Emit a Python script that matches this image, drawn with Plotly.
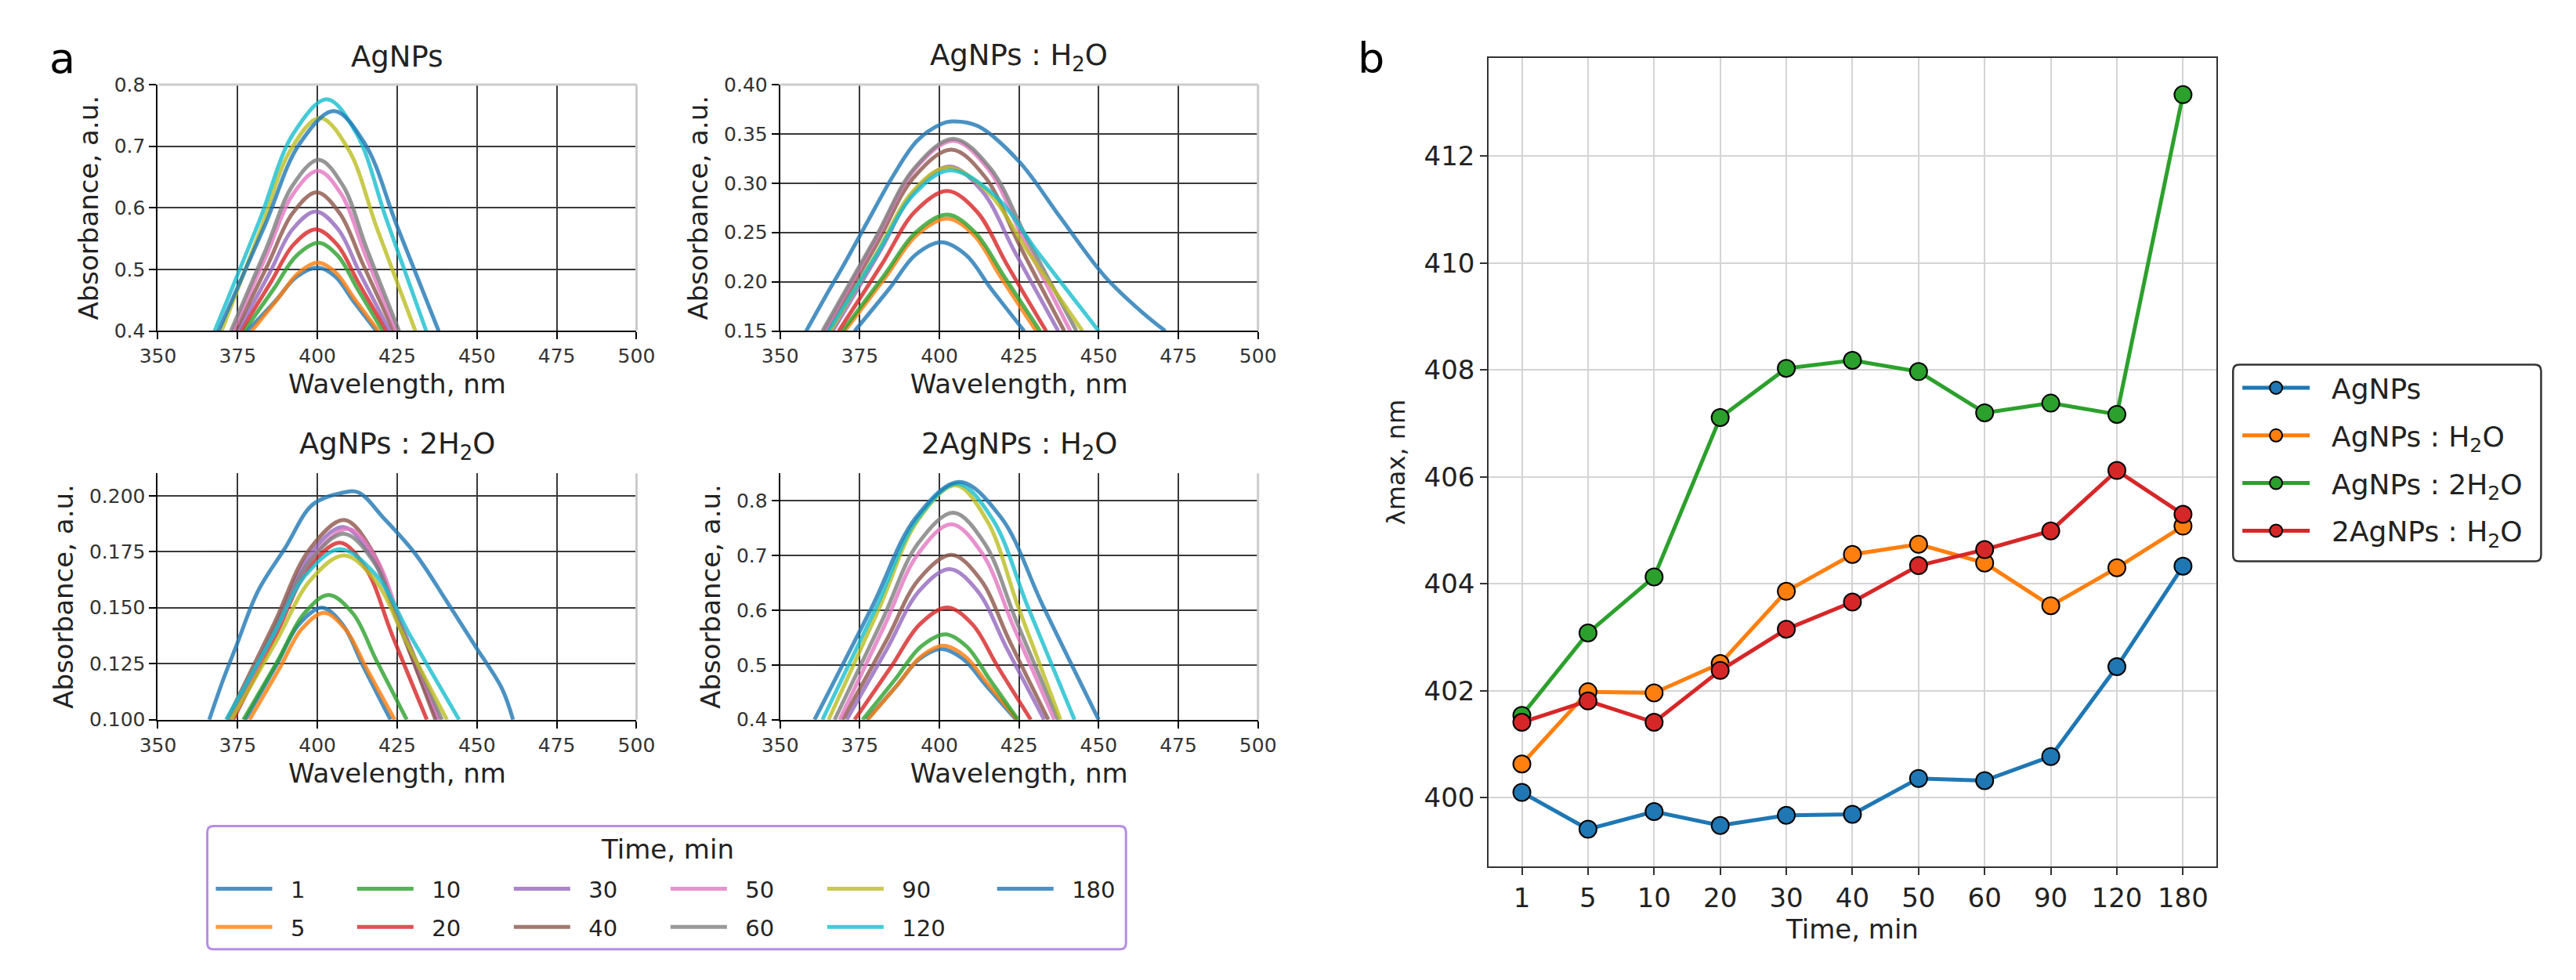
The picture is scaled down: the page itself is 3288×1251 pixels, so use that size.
import plotly.graph_objects as go

# ---- panel a : UV-vis spectra ----
TIMES = [1, 5, 10, 20, 30, 40, 50, 60, 90, 120, 180]
TIME_LABELS = [str(t) for t in TIMES]
SPEC_COLORS = ["#1f77b4", "#ff7f0e", "#2ca02c", "#d62728", "#9467bd", "#8c564b",
               "#e377c2", "#7f7f7f", "#bcbd22", "#17becf", "#1f77b4"]

# AgNPs
AG_WL = [
    [378.0, 386.9, 393.5, 400.2, 405.7, 411.2, 418.5],
    [379.4, 387.7, 394.0, 400.2, 405.9, 411.5, 419.1],
    [377.0, 386.4, 393.4, 400.4, 406.4, 412.5, 420.5],
    [376.0, 385.4, 392.5, 399.5, 406.2, 412.8, 421.7],
    [375.1, 384.9, 392.2, 399.5, 406.5, 413.4, 422.7],
    [374.3, 384.5, 392.2, 399.8, 407.0, 414.3, 423.9],
    [373.5, 384.2, 392.2, 400.2, 407.6, 414.9, 424.7],
    [372.9, 383.9, 392.2, 400.4, 408.0, 415.5, 425.6],
    [370.0, 382.3, 391.6, 400.8, 409.8, 418.7, 430.7],
    [367.8, 381.9, 392.4, 403.0, 412.3, 421.7, 434.1],
    [369.0, 383.5, 394.3, 405.2, 415.0, 424.9, 438.0],
]
AG_ABS = [
    [0.400, 0.449, 0.488, 0.503, 0.488, 0.449, 0.400],
    [0.400, 0.453, 0.494, 0.511, 0.494, 0.453, 0.400],
    [0.400, 0.469, 0.522, 0.543, 0.522, 0.469, 0.400],
    [0.400, 0.479, 0.540, 0.565, 0.540, 0.479, 0.400],
    [0.400, 0.493, 0.565, 0.594, 0.565, 0.493, 0.400],
    [0.400, 0.508, 0.591, 0.625, 0.591, 0.508, 0.400],
    [0.400, 0.525, 0.621, 0.660, 0.621, 0.525, 0.400],
    [0.400, 0.533, 0.636, 0.678, 0.636, 0.533, 0.400],
    [0.400, 0.566, 0.694, 0.746, 0.694, 0.566, 0.400],
    [0.400, 0.580, 0.720, 0.776, 0.720, 0.580, 0.400],
    [0.400, 0.571, 0.703, 0.757, 0.703, 0.571, 0.400],
]

# AgNPs : H2O
AGW_WL = [
    [373.4, 384.3, 392.4, 400.6, 408.4, 416.2, 426.6],
    [370.3, 383.2, 392.8, 402.5, 410.9, 419.2, 430.4],
    [369.6, 382.8, 392.6, 402.5, 411.2, 420.0, 431.6],
    [368.4, 382.0, 392.3, 402.5, 411.8, 421.1, 433.5],
    [366.5, 381.2, 392.2, 403.2, 413.4, 423.7, 437.3],
    [364.6, 380.3, 392.0, 403.8, 414.4, 425.0, 439.2],
    [363.9, 380.1, 392.3, 404.4, 415.4, 426.4, 441.1],
    [363.3, 379.7, 392.1, 404.4, 416.0, 427.6, 443.0],
    [365.8, 380.5, 391.5, 402.5, 415.2, 427.9, 444.9],
    [365.2, 380.4, 391.8, 403.2, 417.2, 431.3, 450.0],
    [358.2, 363.9, 370.3, 377.8, 385.4, 393.0, 400.6, 403.8, 412.0, 425.0, 438.0, 452.0, 464.0, 470.9],
]
AGW_ABS = [
    [0.150, 0.193, 0.227, 0.240, 0.227, 0.193, 0.150],
    [0.150, 0.205, 0.247, 0.264, 0.247, 0.205, 0.150],
    [0.150, 0.207, 0.250, 0.268, 0.250, 0.207, 0.150],
    [0.150, 0.218, 0.271, 0.292, 0.271, 0.218, 0.150],
    [0.150, 0.230, 0.292, 0.317, 0.292, 0.230, 0.150],
    [0.150, 0.238, 0.306, 0.334, 0.306, 0.238, 0.150],
    [0.150, 0.243, 0.314, 0.343, 0.314, 0.243, 0.150],
    [0.150, 0.243, 0.315, 0.345, 0.315, 0.243, 0.150],
    [0.150, 0.230, 0.291, 0.316, 0.291, 0.230, 0.150],
    [0.150, 0.228, 0.288, 0.313, 0.288, 0.228, 0.150],
    [0.150, 0.183, 0.219, 0.263, 0.307, 0.343, 0.360, 0.3626, 0.358, 0.322, 0.265, 0.205, 0.168, 0.150],
]

# AgNPs : 2H2O
AG2W_WL = [
    [377.4, 387.0, 394.2, 401.4, 407.9, 414.3, 422.9],
    [378.7, 388.1, 395.1, 402.1, 408.7, 415.4, 424.2],
    [376.8, 387.7, 395.8, 403.5, 411.2, 418.4, 428.0],
    [373.6, 387.0, 397.1, 407.1, 415.3, 423.4, 434.3],
    [372.7, 386.8, 397.4, 408.0, 416.9, 425.8, 437.6],
    [371.7, 386.4, 397.4, 408.4, 417.0, 425.6, 437.0],
    [372.4, 387.3, 398.4, 409.6, 418.2, 426.8, 438.2],
    [372.1, 386.6, 397.5, 408.4, 417.6, 426.8, 439.0],
    [373.0, 387.2, 397.8, 408.4, 418.1, 427.7, 440.6],
    [371.4, 385.7, 396.4, 407.1, 418.3, 429.5, 444.4],
    [366.1, 370.5, 374.6, 381.4, 389.9, 398.4, 406.9, 412.8, 420.5, 430.7, 440.9, 449.4, 457.9, 461.3],
]
AG2W_ABS = [
    [0.100, 0.1240, 0.1425, 0.1500, 0.1425, 0.1240, 0.100],
    [0.100, 0.1229, 0.1405, 0.1477, 0.1405, 0.1229, 0.100],
    [0.100, 0.1267, 0.1473, 0.1557, 0.1473, 0.1267, 0.100],
    [0.100, 0.1379, 0.1672, 0.1790, 0.1672, 0.1379, 0.100],
    [0.100, 0.1413, 0.1731, 0.1860, 0.1731, 0.1413, 0.100],
    [0.100, 0.1428, 0.1758, 0.1892, 0.1758, 0.1428, 0.100],
    [0.100, 0.1409, 0.1724, 0.1852, 0.1724, 0.1409, 0.100],
    [0.100, 0.1398, 0.1706, 0.1830, 0.1706, 0.1398, 0.100],
    [0.100, 0.1352, 0.1623, 0.1733, 0.1623, 0.1352, 0.100],
    [0.100, 0.1365, 0.1647, 0.1761, 0.1647, 0.1365, 0.100],
    [0.100, 0.118, 0.133, 0.1575, 0.1767, 0.1959, 0.2010, 0.2015, 0.1904, 0.174, 0.152, 0.133, 0.1137, 0.100],
]

# 2AgNPs : H2O
AG2_WL = [
    [377.2, 386.6, 393.6, 400.6, 407.6, 414.7, 424.1],
    [377.5, 387.0, 394.2, 401.3, 408.2, 415.2, 424.4],
    [375.9, 386.3, 394.1, 401.9, 408.7, 415.6, 424.7],
    [373.4, 385.0, 393.8, 402.5, 410.4, 418.2, 428.7],
    [370.9, 383.8, 393.5, 403.2, 412.1, 421.0, 432.9],
    [369.6, 383.3, 393.5, 403.8, 412.9, 422.0, 434.2],
    [368.7, 382.7, 393.3, 403.8, 413.5, 423.2, 436.1],
    [367.1, 382.0, 393.2, 404.4, 414.3, 424.1, 437.3],
    [365.2, 381.2, 393.1, 405.1, 415.0, 424.8, 438.0],
    [363.3, 380.3, 393.0, 405.7, 416.7, 427.7, 442.4],
    [360.8, 379.0, 392.6, 406.3, 419.4, 432.5, 450.0],
]
AG2_ABS = [
    [0.400, 0.462, 0.510, 0.529, 0.510, 0.462, 0.400],
    [0.400, 0.465, 0.515, 0.535, 0.515, 0.465, 0.400],
    [0.400, 0.475, 0.533, 0.556, 0.533, 0.475, 0.400],
    [0.400, 0.498, 0.574, 0.605, 0.574, 0.498, 0.400],
    [0.400, 0.532, 0.634, 0.675, 0.634, 0.532, 0.400],
    [0.400, 0.544, 0.656, 0.701, 0.656, 0.544, 0.400],
    [0.400, 0.571, 0.703, 0.757, 0.703, 0.571, 0.400],
    [0.400, 0.581, 0.721, 0.778, 0.721, 0.581, 0.400],
    [0.400, 0.605, 0.763, 0.828, 0.763, 0.605, 0.400],
    [0.400, 0.607, 0.766, 0.831, 0.766, 0.607, 0.400],
    [0.400, 0.608, 0.769, 0.834, 0.769, 0.608, 0.400],
]

# ---- panel b : lambda max vs time ----
SAMPLES = ["AgNPs", "AgNPs : H<sub>2</sub>O", "AgNPs : 2H<sub>2</sub>O", "2AgNPs : H<sub>2</sub>O"]
SAMPLE_COLORS = ["#1f77b4", "#ff7f0e", "#2ca02c", "#d62728"]
LMAX_AGNPS = [400.10, 399.41, 399.74, 399.48, 399.67, 399.69, 400.36, 400.32, 400.77, 402.45, 404.33]
LMAX_AGNPS_H2O = [400.63, 401.98, 401.96, 402.51, 403.86, 404.55, 404.74, 404.39, 403.59, 404.30, 405.08]
LMAX_AGNPS_2H2O = [401.54, 403.08, 404.13, 407.11, 408.03, 408.18, 407.97, 407.20, 407.38, 407.17, 413.15]
LMAX_2AGNPS_H2O = [401.41, 401.81, 401.41, 402.38, 403.15, 403.66, 404.34, 404.64, 404.99, 406.12, 405.30]

W, H = 3288, 1251
FONT = "DejaVu Sans"
GRID_A = "#3a3a3a"
PAD = "\u00a0\u00a0"   # gap between legend sample and its label


def fx(p):
    return p / W


def fy(p):
    return 1 - p / H


# legend columns for panel a (column-major like matplotlib ncol=6)
LEG_COLS = {1: "legend2", 5: "legend2", 10: "legend3", 20: "legend3", 30: "legend4",
            40: "legend4", 50: "legend5", 60: "legend5", 90: "legend6", 120: "legend6",
            180: "legend7"}
LEG_X = [247, 430, 633, 836, 1039, 1259]

panels = [
    # suffix, title, wl, abs, x px, y px(top,bottom), yrange, dtick, fmt
    ("", "AgNPs", AG_WL, AG_ABS, (172, 792), (88, 410), [0.4, 0.8], 0.1, ".1f"),
    ("2", "AgNPs : H<sub>2</sub>O", AGW_WL, AGW_ABS, (978, 1597), (88, 410), [0.15, 0.40], 0.05, ".2f"),
    ("3", "AgNPs : 2H<sub>2</sub>O", AG2W_WL, AG2W_ABS, (172, 792), (596, 918), [0.1, 0.21], 0.025, ".3f"),
    ("4", "2AgNPs : H<sub>2</sub>O", AG2_WL, AG2_ABS, (978, 1597), (596, 918), [0.4, 0.85], 0.1, ".1f"),
]

fig = go.Figure()
layout = dict(
    width=W, height=H, margin=dict(l=0, r=0, t=0, b=0),
    paper_bgcolor="white", plot_bgcolor="white",
    font=dict(family=FONT, color="#222"),
    showlegend=True,
)
annotations = []
shapes = []

for k, (suf, title, wls, abss, xpx, ypx, yr, dt, fmt) in enumerate(panels):
    xa, ya = "x" + suf, "y" + suf
    for i, t in enumerate(TIMES):
        fig.add_trace(go.Scatter(
            x=wls[i], y=abss[i], mode="lines", name=PAD + str(t),
            line=dict(color=SPEC_COLORS[i], width=5, shape="spline"),
            opacity=0.8, xaxis=xa, yaxis=ya,
            showlegend=(k == 0), legend=LEG_COLS[t], legendgroup="t%d" % t,
        ))
    layout["xaxis" + suf] = dict(
        domain=[fx(xpx[0]), fx(xpx[1])], anchor=ya, range=[350, 500],
        tick0=350, dtick=25, showgrid=True, gridcolor=GRID_A, gridwidth=2,
        zeroline=False, showline=True, linecolor="black", linewidth=2,
        ticks="outside", ticklen=9, tickwidth=2, tickcolor="black",
        tickfont=dict(size=25, color="#333"),
        title=dict(text="Wavelength, nm", font=dict(size=34, color="#222"), standoff=10),
    )
    layout["yaxis" + suf] = dict(
        domain=[fy(ypx[1]), fy(ypx[0])], anchor=xa, range=yr,
        tick0=yr[0], dtick=dt, tickformat=fmt, showgrid=True, gridcolor=GRID_A,
        gridwidth=2, zeroline=False, showline=True, linecolor="black", linewidth=2,
        ticks="outside", ticklen=9, tickwidth=2, tickcolor="black",
        tickfont=dict(size=25, color="#333"),
        title=dict(text="Absorbance, a.u.", font=dict(size=34, color="#222"), standoff=10),
    )
    annotations.append(dict(
        text=title, x=fx((xpx[0] + xpx[1]) / 2), y=fy(ypx[0] - 36),
        xref="paper", yref="paper", showarrow=False, xanchor="center", yanchor="middle",
        font=dict(size=37, color="#222"),
    ))
    # light edges on the right (and on top when a gridline sits there)
    shapes.append(dict(type="line", xref="paper", yref="paper",
                       x0=fx(xpx[1]), x1=fx(xpx[1]), y0=fy(ypx[1]), y1=fy(ypx[0]),
                       line=dict(color="#cccccc", width=3), layer="above"))
    if k < 2:
        shapes.append(dict(type="line", xref="paper", yref="paper",
                           x0=fx(xpx[0] + 1), x1=fx(xpx[1]), y0=fy(ypx[0]), y1=fy(ypx[0]),
                           line=dict(color="#cccccc", width=3), layer="above"))

# ---- panel b traces ----
for name, color, vals in zip(SAMPLES, SAMPLE_COLORS,
                             [LMAX_AGNPS, LMAX_AGNPS_H2O, LMAX_AGNPS_2H2O, LMAX_2AGNPS_H2O]):
    fig.add_trace(go.Scatter(
        x=TIME_LABELS, y=vals, mode="lines+markers", name=PAD + name,
        line=dict(color=color, width=5),
        marker=dict(color=color, size=22, line=dict(color="black", width=2)),
        xaxis="x5", yaxis="y5", legend="legend", legendgroup=name,
    ))

layout["xaxis5"] = dict(
    domain=[fx(1896), fx(2838)], anchor="y5", type="category",
    categoryorder="array", categoryarray=TIME_LABELS, range=[-0.5, 10.5],
    showgrid=True, gridcolor="#d4d4d4", gridwidth=2, zeroline=False,
    showline=True, mirror=True, linecolor="#333", linewidth=2,
    ticks="outside", ticklen=9, tickwidth=2, tickcolor="#333",
    tickfont=dict(size=34, color="#222"),
    title=dict(text="Time, min", font=dict(size=34, color="#222"), standoff=8),
)
layout["yaxis5"] = dict(
    domain=[fy(1110), fy(53)], anchor="x5", range=[398.71, 413.84],
    tick0=400, dtick=2, showgrid=True, gridcolor="#d4d4d4", gridwidth=2,
    zeroline=False, showline=True, mirror=True, linecolor="#333", linewidth=2,
    ticks="outside", ticklen=9, tickwidth=2, tickcolor="#333",
    tickfont=dict(size=34, color="#222"),
    title=dict(text="λmax, nm", font=dict(size=32, color="#222"), standoff=14),
)

# legend for panel b
layout["legend"] = dict(
    x=fx(2867), xanchor="left", y=fy(578), yanchor="middle",
    bgcolor="rgba(0,0,0,0)", borderwidth=0, itemwidth=86,
    font=dict(size=36, color="#222"), tracegroupgap=11, traceorder="grouped",
)
# legends for panel a, one per column
for j, lx in enumerate(LEG_X):
    layout["legend%d" % (j + 2)] = dict(
        x=fx(lx - 5), xanchor="left", y=fy(1113), yanchor="top",
        bgcolor="rgba(0,0,0,0)", borderwidth=0, itemwidth=72,
        font=dict(size=29, color="#222"), tracegroupgap=8, traceorder="grouped",
    )


def rounded_box(x0, y0, x1, y1, r):
    # pixel box -> paper path with small rounded corners
    pts = [
        "M %.5f,%.5f" % (fx(x0 + r), fy(y0)),
        "L %.5f,%.5f" % (fx(x1 - r), fy(y0)),
        "Q %.5f,%.5f %.5f,%.5f" % (fx(x1), fy(y0), fx(x1), fy(y0 + r)),
        "L %.5f,%.5f" % (fx(x1), fy(y1 - r)),
        "Q %.5f,%.5f %.5f,%.5f" % (fx(x1), fy(y1), fx(x1 - r), fy(y1)),
        "L %.5f,%.5f" % (fx(x0 + r), fy(y1)),
        "Q %.5f,%.5f %.5f,%.5f" % (fx(x0), fy(y1), fx(x0), fy(y1 - r)),
        "L %.5f,%.5f" % (fx(x0), fy(y0 + r)),
        "Q %.5f,%.5f %.5f,%.5f" % (fx(x0), fy(y0), fx(x0 + r), fy(y0)),
        "Z",
    ]
    return " ".join(pts)


shapes.append(dict(type="path", xref="paper", yref="paper",
                   path=rounded_box(236, 1057, 1426, 1218, 8),
                   line=dict(color="#b48ee6", width=3)))
shapes.append(dict(type="path", xref="paper", yref="paper",
                   path=rounded_box(2860, 454, 3259, 711, 8),
                   line=dict(color="#333", width=2.5)))

annotations.append(dict(text="Time, min", x=fx(832), y=fy(1087), xref="paper", yref="paper",
                        xanchor="center", yanchor="middle",
                        showarrow=False, font=dict(size=34, color="#222")))
annotations.append(dict(text="a", x=fx(48), y=fy(54), xref="paper", yref="paper",
                        xanchor="center", yanchor="middle",
                        showarrow=False, font=dict(size=54, color="black")))
annotations.append(dict(text="b", x=fx(1743), y=fy(54), xref="paper", yref="paper",
                        xanchor="center", yanchor="middle",
                        showarrow=False, font=dict(size=54, color="black")))

layout["annotations"] = annotations
layout["shapes"] = shapes
fig.update_layout(**layout)

fig.write_html("out.html")
